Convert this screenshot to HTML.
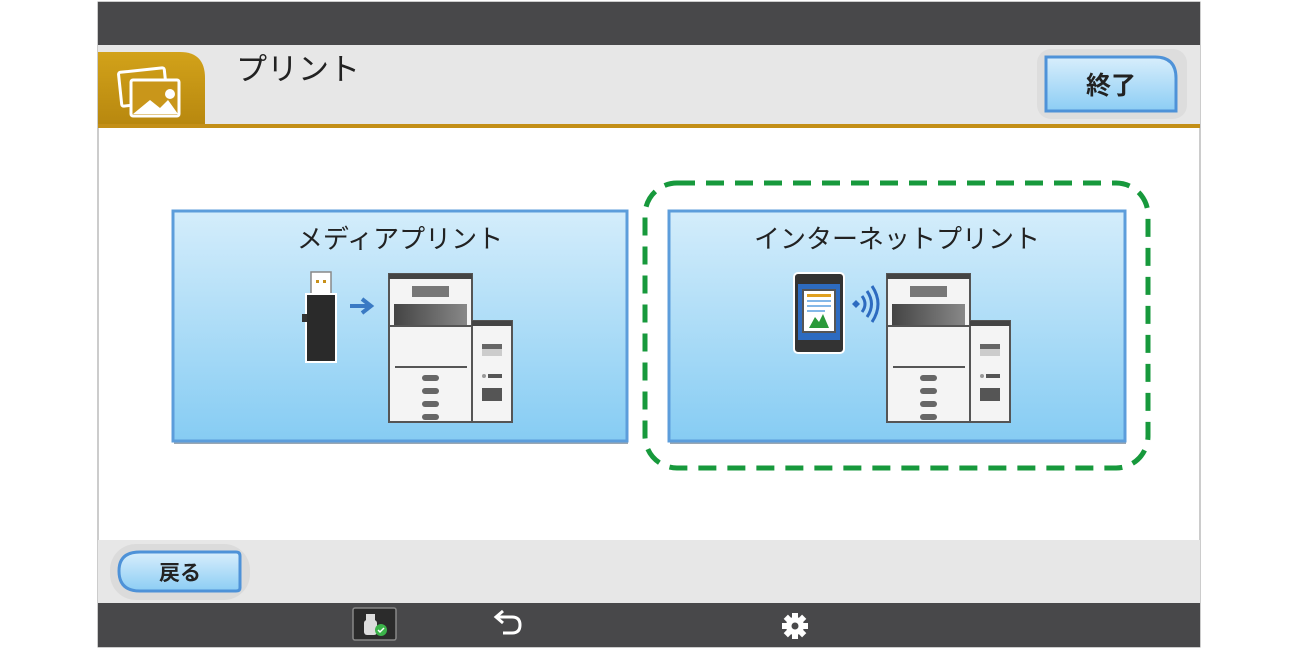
<!DOCTYPE html>
<html><head><meta charset="utf-8"><style>
body{margin:0;width:1300px;height:650px;background:#fff;overflow:hidden;font-family:"Liberation Sans","Noto Sans CJK JP",sans-serif}
svg{display:block}
</style></head><body>
<svg width="1300" height="650" viewBox="0 0 1300 650" xmlns="http://www.w3.org/2000/svg">
<defs>
<linearGradient id="card" x1="0" y1="0" x2="0" y2="1"><stop offset="0" stop-color="#d4edfb"/><stop offset="1" stop-color="#86ccf3"/></linearGradient>
<linearGradient id="btn" x1="0" y1="0" x2="0" y2="1"><stop offset="0" stop-color="#d8eefc"/><stop offset="1" stop-color="#8ccdf4"/></linearGradient>
<linearGradient id="gold" x1="0" y1="0" x2="0" y2="1"><stop offset="0" stop-color="#d2a21a"/><stop offset="1" stop-color="#b8880f"/></linearGradient>
<linearGradient id="dk" x1="0" y1="0" x2="1" y2="0"><stop offset="0" stop-color="#444"/><stop offset="1" stop-color="#888"/></linearGradient>
<g id="printer">
<rect x="0" y="0" width="83" height="148" fill="#f4f4f4" stroke="#555" stroke-width="2"/>
<rect x="0" y="0" width="83" height="5" fill="#444"/>
<rect x="23" y="12" width="37" height="11" fill="#777"/>
<rect x="5" y="30" width="73" height="22" fill="url(#dk)"/>
<line x1="0" y1="52" x2="83" y2="52" stroke="#555" stroke-width="2"/>
<line x1="6" y1="93" x2="78" y2="93" stroke="#555" stroke-width="2"/>
<rect x="33" y="101" width="17" height="6" rx="3" fill="#666"/>
<rect x="33" y="114" width="17" height="6" rx="3" fill="#666"/>
<rect x="33" y="127" width="17" height="6" rx="3" fill="#666"/>
<rect x="33" y="140" width="17" height="6" rx="3" fill="#666"/>
<rect x="83" y="47" width="40" height="101" fill="#f4f4f4" stroke="#555" stroke-width="2"/>
<rect x="83" y="47" width="40" height="5" fill="#444"/>
<rect x="93" y="70" width="20" height="12" fill="#ccc"/><rect x="93" y="70" width="20" height="5" fill="#666"/>
<circle cx="95" cy="102" r="2" fill="#999"/><rect x="99" y="100" width="14" height="4" fill="#555"/>
<rect x="93" y="114" width="20" height="13" fill="#555"/>
</g>
</defs>
<!-- frame -->
<rect x="98" y="2" width="1102" height="645" fill="#fff" stroke="#999" stroke-width="1"/>
<rect x="98" y="2" width="1102" height="43" fill="#48484a"/>
<rect x="98" y="45" width="1102" height="80" fill="#e7e7e7"/>
<rect x="98" y="124" width="1102" height="4" fill="#c38f17"/>
<path d="M98 52 H180 Q205 52 205 78 V124 H98 Z" fill="url(#gold)"/>
<g transform="translate(118,66)" stroke="#fff" stroke-width="3" fill="none">
<rect x="2" y="4" width="46" height="34" rx="2" transform="rotate(-6 25 21)"/>
<rect x="13" y="14" width="48" height="36" rx="2" fill="#c9961a"/>
</g>
<path d="M133 114 L150 100 L160 108 L168 100 L178 114 Z" fill="#fff"/>
<circle cx="170" cy="94" r="5" fill="#fff"/>
<text x="236" y="80" font-size="31" fill="#222">プリント</text>
<rect x="1037" y="49" width="150" height="70" rx="14" fill="#d8d8d8" opacity="0.7"/>
<path d="M1046 57 H1155 Q1176 57 1176 78 V111 H1046 Z" fill="url(#btn)" stroke="#4e92d8" stroke-width="3"/>
<text x="1111" y="94" font-size="25" font-weight="bold" fill="#222" text-anchor="middle">終了</text>
<!-- cards -->
<rect x="174" y="214" width="454" height="230" fill="#9aa7b3"/>
<rect x="173" y="211" width="454" height="230" fill="url(#card)" stroke="#5c9ddb" stroke-width="3"/>
<text x="400" y="248" font-size="26" fill="#222" text-anchor="middle">メディアプリント</text>
<rect x="670" y="214" width="456" height="230" fill="#9aa7b3"/>
<rect x="669" y="211" width="456" height="230" fill="url(#card)" stroke="#5c9ddb" stroke-width="3"/>
<text x="897" y="248" font-size="26" fill="#222" text-anchor="middle">インターネットプリント</text>
<!-- usb -->
<rect x="311" y="272" width="20" height="24" fill="#fff" stroke="#888" stroke-width="1.5"/>
<rect x="316" y="280" width="3" height="3" fill="#c8901a"/><rect x="323" y="280" width="3" height="3" fill="#c8901a"/>
<rect x="306" y="294" width="30" height="68" fill="#2a2a2a" stroke="#fff" stroke-width="2"/>
<rect x="302" y="314" width="5" height="8" fill="#333"/>
<path d="M350 306 H370 M362 299 L371 306 L362 313" stroke="#3a7ac4" stroke-width="4" fill="none"/>
<use href="#printer" x="389" y="274"/>
<!-- phone -->
<rect x="794" y="273" width="50" height="80" rx="4" fill="#333" stroke="#fff" stroke-width="2"/>
<rect x="798" y="284" width="42" height="56" fill="#2d6bc0"/>
<rect x="803" y="290" width="32" height="42" fill="#fff" stroke="#555" stroke-width="2"/>
<rect x="807" y="294" width="24" height="3" fill="#e0a020"/>
<line x1="807" y1="301" x2="831" y2="301" stroke="#5aa0e0" stroke-width="1.5"/>
<line x1="807" y1="306" x2="831" y2="306" stroke="#5aa0e0" stroke-width="1.5"/>
<line x1="807" y1="311" x2="825" y2="311" stroke="#5aa0e0" stroke-width="1.5"/>
<path d="M809 328 L815 317 L819 322 L823 314 L829 328 Z" fill="#2a9a3a"/>
<path d="M856 300 l4 4 -4 4 -4 -4z" fill="#2d6bc0"/>
<path d="M862 296 Q868 304 862 312 M867 291 Q876 304 867 317 M872 286 Q884 304 872 322" stroke="#2d6bc0" stroke-width="3" fill="none"/>
<use href="#printer" x="887" y="274"/>
<!-- dashed highlight -->
<rect x="645" y="183" width="503" height="285" rx="32" fill="none" stroke="#17993c" stroke-width="5" stroke-dasharray="18 11"/>
<!-- bottom -->
<rect x="98" y="540" width="1102" height="63" fill="#e7e7e7"/>
<rect x="110" y="544" width="140" height="56" rx="26" fill="#d6d6d6" opacity="0.7"/>
<path d="M140 552 H236 Q240 552 240 556 V588 Q240 591 236 591 H140 Q119 591 119 571 Q119 552 140 552 Z" fill="url(#btn)" stroke="#4e92d8" stroke-width="3"/>
<text x="180" y="580" font-size="21" font-weight="bold" fill="#222" text-anchor="middle">戻る</text>
<rect x="98" y="603" width="1102" height="44" fill="#48484a"/>
<rect x="353" y="608" width="43" height="32" rx="2" fill="#2b2b2b" stroke="#888" stroke-width="1.5"/>
<rect x="366" y="614" width="9" height="7" fill="#ddd"/><rect x="364" y="620" width="13" height="15" rx="3" fill="#ddd"/>
<circle cx="381" cy="630" r="6" fill="#3cb34a"/><path d="M378 630 l2 2 4 -4" stroke="#fff" stroke-width="1.5" fill="none"/>
<path d="M498 617 H512 Q520 617 520 625 Q520 633 512 633 H503 M503 611 L496 617 L503 623" stroke="#fff" stroke-width="3" fill="none"/>
<g transform="translate(795,626)" fill="#fff">
<circle r="9"/><rect x="-3" y="-13" width="6" height="26"/><rect x="-13" y="-3" width="26" height="6"/>
<rect x="-3" y="-13" width="6" height="26" transform="rotate(45)"/><rect x="-3" y="-13" width="6" height="26" transform="rotate(-45)"/>
<circle r="3.5" fill="#48484a"/>
</g>
</svg>
</body></html>
